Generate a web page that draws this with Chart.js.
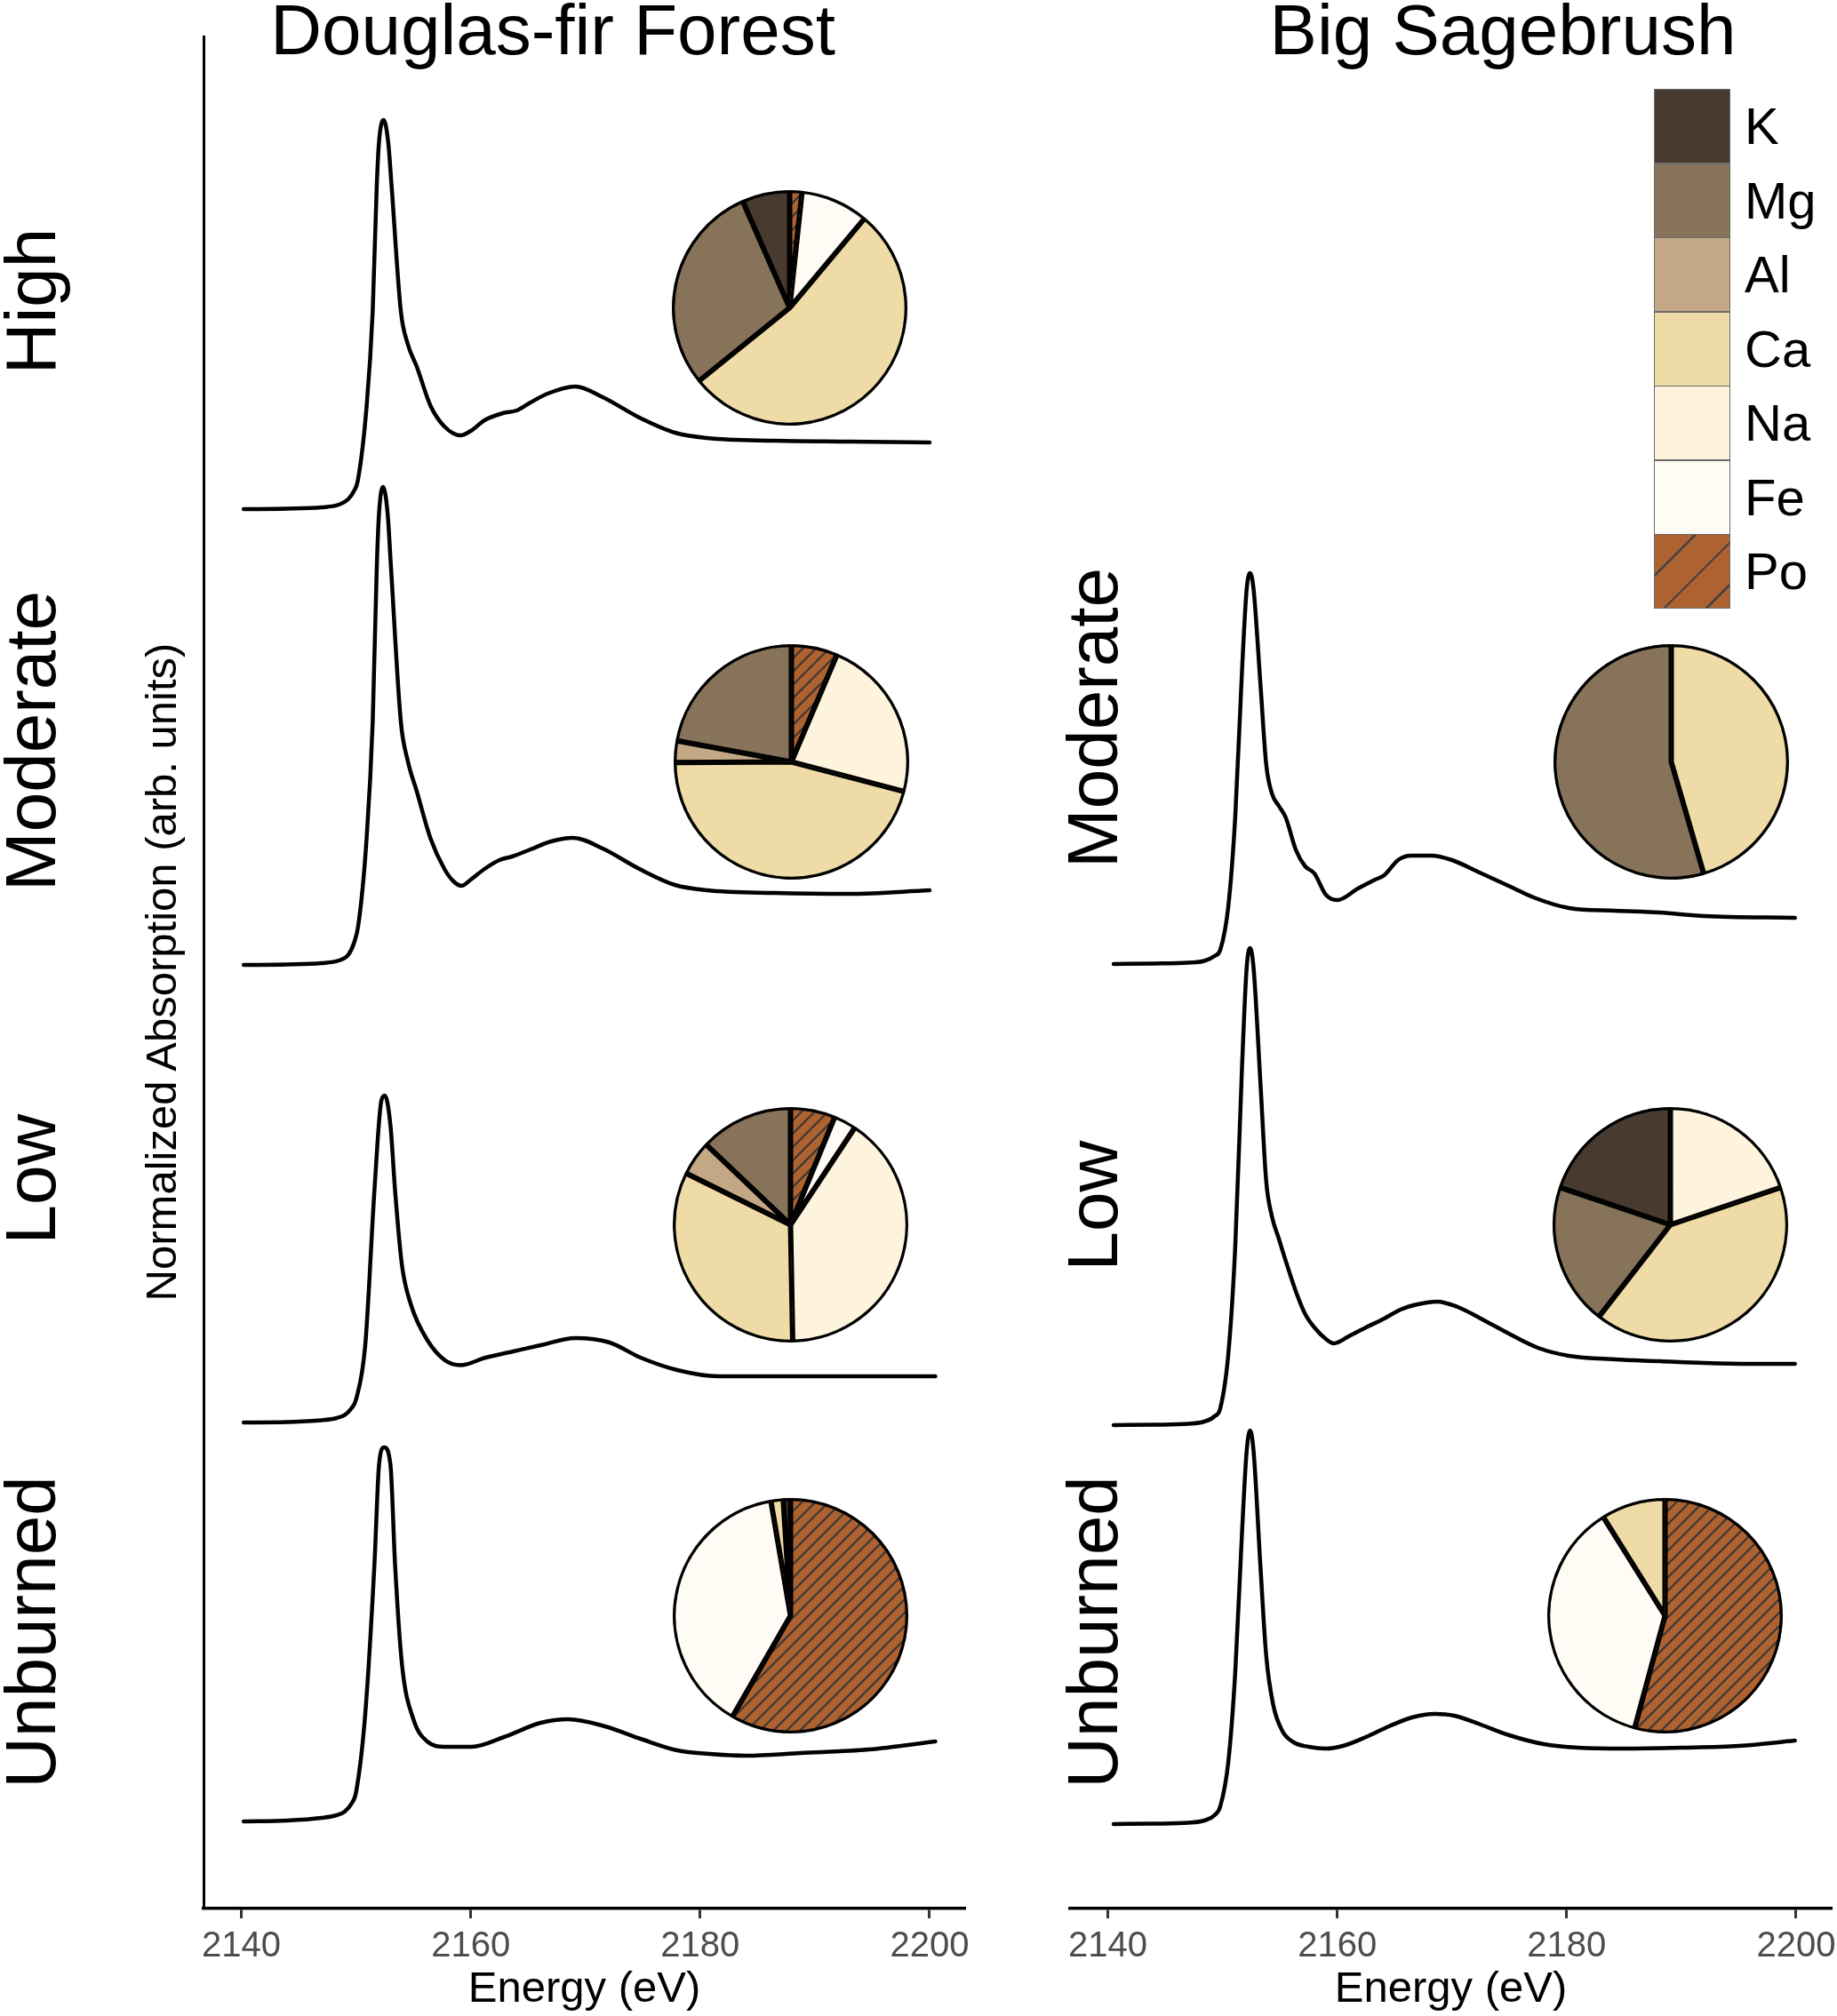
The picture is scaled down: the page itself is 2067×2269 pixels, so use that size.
<!DOCTYPE html>
<html>
<head>
<meta charset="utf-8">
<script src="https://cdn.jsdelivr.net/npm/chart.js@4.4.1/dist/chart.umd.min.js"></script>
<style>
html,body{margin:0;padding:0;background:#fff;width:2067px;height:2269px;overflow:hidden;font-family:"Liberation Sans",Arial,Helvetica,sans-serif;}
canvas{position:absolute;}
.title{position:absolute;font-size:80px;line-height:1;white-space:nowrap;transform:translate(-50%,0);color:#000;}
.row{position:absolute;font-size:80px;line-height:1;white-space:nowrap;transform:translate(-50%,-50%) rotate(-90deg);color:#000;}
.ylab{position:absolute;font-size:49px;line-height:1;white-space:nowrap;transform:translate(-50%,-50%) rotate(-90deg);color:#000;}
.lbox{position:absolute;left:1861px;width:84px;height:82px;border:1px solid #6b6b6b;}
.ltxt{position:absolute;left:1963px;font-size:58px;line-height:1;color:#000;transform:translate(0,-50%);}
</style>
</head>
<body>
<div class="title" style="left:622px;top:-6px;">Douglas-fir Forest</div>
<div class="title" style="left:1691px;top:-6px;">Big Sagebrush</div>

<div class="row" style="left:35px;top:339px;">High</div>
<div class="row" style="left:35px;top:834px;">Moderate</div>
<div class="row" style="left:35px;top:1327px;">Low</div>
<div class="row" style="left:35px;top:1837px;">Unburned</div>
<div class="row" style="left:1230px;top:808px;">Moderate</div>
<div class="row" style="left:1230px;top:1357px;">Low</div>
<div class="row" style="left:1230px;top:1837px;">Unburned</div>

<div class="ylab" style="left:181px;top:1094px;">Normalized Absorption (arb. units)</div>

<canvas id="cL" width="897" height="2229" style="left:209px;top:40px;"></canvas>
<canvas id="cR" width="897" height="2229" style="left:1184px;top:40px;"></canvas>

<canvas id="p1" width="265" height="265" style="left:756px;top:214px;"></canvas>
<canvas id="p2" width="265" height="265" style="left:758px;top:725px;"></canvas>
<canvas id="p3" width="265" height="265" style="left:757px;top:1246px;"></canvas>
<canvas id="p4" width="265" height="265" style="left:757px;top:1686px;"></canvas>
<canvas id="p5" width="265" height="265" style="left:1748px;top:725px;"></canvas>
<canvas id="p6" width="265" height="265" style="left:1747px;top:1246px;"></canvas>
<canvas id="p7" width="265" height="265" style="left:1741px;top:1686px;"></canvas>

<div id="legend"></div>

<script>
// ---------------- DATA ----------------
const energyTicks = [2140, 2160, 2180, 2200];

// Douglas-fir Forest spectra (energy in eV, absorption in arb. units above own baseline)
const dfHighE = [2140.2,2144,2147,2148.5,2149.3,2149.8,2150.15,2150.9,2151.45,2151.8,2152.0,2152.4,2152.8,2153.1,2153.9,2154.5,2155.3,2156.5,2157.7,2159.1,2160.0,2161.2,2162.8,2164.0,2165.2,2166.7,2169.1,2171.5,2174.7,2177.8,2180.6,2186.5,2193,2200];
const dfHighA = [0,0.005,0.02,0.05,0.11,0.2,0.32,1.13,2.23,3.63,4.13,4.38,4.13,3.63,2.23,1.86,1.6,1.16,0.93,0.83,0.88,1.0,1.08,1.11,1.2,1.3,1.38,1.26,1.03,0.86,0.8,0.77,0.76,0.75];

const dfModE = [2140.2,2144,2147,2148.5,2149.3,2149.8,2150.2,2150.9,2151.45,2151.8,2152.0,2152.35,2152.75,2153.05,2153.9,2154.5,2155.3,2156.5,2157.7,2158.5,2159.2,2160.0,2161.2,2162.5,2163.6,2165.2,2167.0,2168.9,2171.5,2174.7,2177.8,2180.6,2186.5,2193,2200];
const dfModA = [0,0.005,0.02,0.05,0.11,0.24,0.45,1.39,2.74,4.46,5.08,5.38,5.08,4.46,2.74,2.3,1.95,1.42,1.08,0.94,0.89,0.96,1.08,1.18,1.22,1.3,1.39,1.43,1.31,1.08,0.9,0.84,0.81,0.8,0.84];

const dfLowE = [2140.2,2144,2147,2148.3,2149.0,2149.6,2150.0,2150.8,2151.6,2152.2,2152.5,2153.0,2153.4,2154.0,2154.8,2156.2,2157.75,2159.1,2161.3,2163.7,2166.1,2169.1,2172.1,2174.8,2178.0,2181.6,2190.75,2200.5];
const dfLowA = [0,0.005,0.025,0.05,0.084,0.16,0.26,0.87,2.61,3.62,3.68,3.34,2.61,1.77,1.32,0.93,0.7,0.645,0.73,0.8,0.87,0.95,0.9,0.73,0.59,0.52,0.52,0.52];

const dfUnbE = [2140.2,2144,2147,2148.3,2149.0,2149.6,2150.0,2150.8,2151.6,2152.0,2152.45,2153.0,2153.4,2154.0,2155.0,2156.2,2157.75,2160.1,2162.9,2166.1,2168.5,2171.7,2174.8,2178.0,2180.8,2184.0,2188.8,2194.7,2200.5];
const dfUnbA = [0,0.01,0.04,0.07,0.11,0.2,0.33,1.21,2.89,4.01,4.21,4.01,2.89,1.77,1.15,0.9,0.84,0.84,0.95,1.11,1.15,1.07,0.93,0.8,0.76,0.74,0.77,0.81,0.9];

// Big Sagebrush spectra
const bsModE = [2140.5,2144,2147,2148.4,2149.3,2149.8,2150.5,2151.1,2151.7,2152.1,2152.4,2152.7,2153.3,2153.8,2154.3,2154.9,2155.5,2156.4,2157.2,2158.0,2159.0,2160.0,2161.8,2163.3,2164.1,2165.3,2166.45,2168.2,2170.0,2172.4,2175.1,2177.1,2180.2,2184.2,2188.1,2192.0,2199.9];
const bsModA = [0,0.005,0.015,0.035,0.09,0.16,0.65,1.65,3.32,4.22,4.4,4.22,3.15,2.25,1.92,1.78,1.65,1.28,1.1,1.02,0.78,0.72,0.85,0.95,1.0,1.17,1.22,1.22,1.17,1.03,0.87,0.75,0.63,0.6,0.58,0.54,0.52];

const bsLowE = [2140.5,2144,2147,2148.4,2149.3,2149.8,2150.5,2151.1,2151.7,2152.1,2152.4,2152.7,2153.3,2153.8,2154.3,2154.9,2155.5,2156.4,2157.2,2158.0,2159.0,2159.7,2161.0,2162.5,2164.1,2165.5,2167.0,2168.7,2170.5,2172.5,2175.1,2177.5,2180.2,2184.2,2188.1,2192.0,2196.0,2199.9];
const bsLowA = [0,0.005,0.015,0.04,0.1,0.19,0.8,2.0,4.05,5.15,5.37,5.15,3.85,2.75,2.35,2.1,1.85,1.5,1.25,1.1,0.97,0.92,1.0,1.1,1.2,1.3,1.36,1.39,1.33,1.2,1.02,0.87,0.78,0.74,0.72,0.7,0.69,0.69];

const bsUnbE = [2140.5,2144,2147,2148.4,2149.3,2149.8,2150.5,2151.1,2151.7,2152.1,2152.4,2152.7,2153.3,2153.8,2154.4,2155.2,2156.2,2157.5,2159.0,2160.5,2162.5,2164.5,2166.5,2168.5,2170.2,2172.5,2175.0,2178.0,2181.0,2185.0,2190.0,2195.0,2199.9];
const bsUnbA = [0,0.005,0.015,0.04,0.1,0.2,0.7,1.7,3.3,4.2,4.43,4.2,2.9,1.9,1.35,1.05,0.92,0.87,0.85,0.88,0.98,1.1,1.2,1.24,1.22,1.12,1.0,0.9,0.86,0.85,0.86,0.88,0.94];

// vertical stacking offsets (arb. units) of each spectrum
const dfOffsets = [15.75, 10.62, 5.47, 0.98];   // High, Moderate, Low, Unburned
const bsOffsets = [10.63, 5.44, 0.95];          // Moderate, Low, Unburned

// Pie fractions (%), in order of components below
const components = ['Po','Fe','Na','Ca','Al','Mg','K'];
const legendOrder = ['K','Mg','Al','Ca','Na','Fe','Po'];
const pieDfHigh = [1.7, 9.4, 0, 53.1, 0, 29.2, 6.6];
const pieDfMod  = [6.4, 0, 22.7, 45.8, 3.0, 22.1, 0];
const pieDfLow  = [6.2, 3.1, 40.4, 32.6, 4.8, 12.9, 0];
const pieDfUnb  = [58.3, 39.0, 0, 1.7, 0, 0, 1.0];
const pieBsMod  = [0, 0, 0, 45.5, 0, 54.5, 0];
const pieBsLow  = [0, 0, 19.8, 40.7, 0, 19.7, 19.8];
const pieBsUnb  = [54.2, 36.9, 0, 8.9, 0, 0, 0];

// ---------------- STYLE ----------------
const compColors = {K:'#483a2f', Mg:'#86735a', Al:'#c4a886', Ca:'#efdba5', Na:'#fef3dc', Fe:'#fffcf6', Po:'#ad6230'};
const FONT = 'Liberation Sans';

function hatchPattern(){
  const c = document.createElement('canvas'); c.width = 15; c.height = 15;
  const g = c.getContext('2d');
  g.fillStyle = compColors.Po; g.fillRect(0,0,15,15);
  g.strokeStyle = '#3b3735'; g.lineWidth = 2.2;
  g.beginPath();
  g.moveTo(-2,17); g.lineTo(17,-2);
  g.moveTo(-9.5,9.5); g.lineTo(9.5,-9.5);
  g.moveTo(5.5,24.5); g.lineTo(24.5,5.5);
  g.stroke();
  return g.createPattern(c,'repeat');
}

function makeSpectra(id, specs, showY){
  new Chart(document.getElementById(id), {
    type:'line',
    data:{datasets: specs.map(s => ({
      data: s.e.map((e,i) => ({x:e, y:s.a[i] + s.off})),
      borderColor:'#000', borderWidth:4.5, pointRadius:0, fill:false,
      cubicInterpolationMode:'monotone', borderJoinStyle:'round', borderCapStyle:'round'
    }))},
    options:{
      responsive:false, animation:false, devicePixelRatio:1,
      layout:{padding:{left:20,right:20,top:0,bottom:0}},
      plugins:{legend:{display:false}, tooltip:{enabled:false}},
      scales:{
        x:{type:'linear', min:2136.7, max:2203.1,
          afterBuildTicks: sc => { sc.ticks = energyTicks.map(v => ({value:v})); },
          afterFit: sc => { sc.height = 121; },
          grid:{drawOnChartArea:false, drawTicks:true, tickLength:11, tickWidth:3, tickColor:'#333333'},
          border:{display:true, color:'#000', width:3.5},
          ticks:{font:{family:FONT, size:40}, color:'#4d4d4d', padding:8, maxRotation:0, autoSkip:false,
                 callback: v => String(v)},
          title:{display:true, text:'Energy (eV)', font:{family:FONT, size:49}, color:'#000', padding:{top:0,bottom:0}}
        },
        y:{type:'linear', min:0, max:21.08, display:showY,
          afterFit: sc => { sc.width = 0; },
          grid:{drawOnChartArea:false, drawTicks:false},
          border:{display:true, color:'#000', width:3},
          ticks:{display:false}
        }
      }
    }
  });
}

makeSpectra('cL', [
  {e:dfHighE, a:dfHighA, off:dfOffsets[0]},
  {e:dfModE,  a:dfModA,  off:dfOffsets[1]},
  {e:dfLowE,  a:dfLowA,  off:dfOffsets[2]},
  {e:dfUnbE,  a:dfUnbA,  off:dfOffsets[3]}
], true);
makeSpectra('cR', [
  {e:bsModE, a:bsModA, off:bsOffsets[0]},
  {e:bsLowE, a:bsLowA, off:bsOffsets[1]},
  {e:bsUnbE, a:bsUnbA, off:bsOffsets[2]}
], false);

const hatch = hatchPattern();
const pieBg = components.map(c => c === 'Po' ? hatch : compColors[c]);

function makePie(id, vals){
  new Chart(document.getElementById(id), {
    type:'pie',
    data:{labels:components, datasets:[{data:vals, backgroundColor:pieBg,
      borderColor:'#000', borderWidth:3, borderAlign:'inner', hoverOffset:0}]},
    options:{responsive:false, animation:false, devicePixelRatio:1,
      layout:{padding:0},
      plugins:{legend:{display:false}, tooltip:{enabled:false}}}
  });
}
makePie('p1', pieDfHigh);
makePie('p2', pieDfMod);
makePie('p3', pieDfLow);
makePie('p4', pieDfUnb);
makePie('p5', pieBsMod);
makePie('p6', pieBsLow);
makePie('p7', pieBsUnb);

// legend
const leg = document.getElementById('legend');
legendOrder.forEach((c, i) => {
  const top = 100 + i * 83.5;
  const b = document.createElement('div');
  b.className = 'lbox';
  b.style.top = top + 'px';
  if (c === 'Po') {
    b.style.background = 'repeating-linear-gradient(135deg, ' + compColors.Po + ' 0px, ' + compColors.Po + ' 31px, #4a4440 31px, #4a4440 33.5px)';
  } else {
    b.style.background = compColors[c];
  }
  leg.appendChild(b);
  const t = document.createElement('div');
  t.className = 'ltxt';
  t.style.top = (top + 42) + 'px';
  t.textContent = c;
  leg.appendChild(t);
});
</script>
</body>
</html>
